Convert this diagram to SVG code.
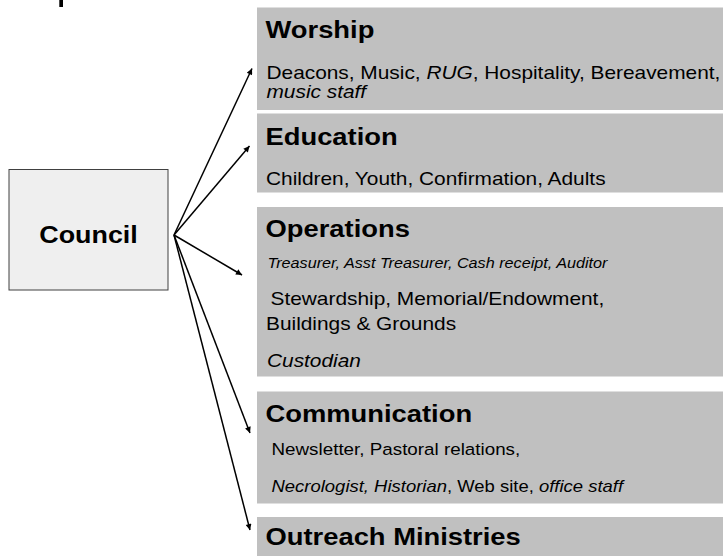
<svg xmlns="http://www.w3.org/2000/svg" width="723" height="556" viewBox="0 0 723 556">
<style>
  text { font-family: "Liberation Sans", Arial, Helvetica, sans-serif; fill: #000; }
  .h { font-size: 24px; font-weight: bold; }
  .b { font-size: 18.3px; }
  .s { font-size: 14.2px; font-style: italic; }
  .c { font-size: 16.5px; }
  .i { font-style: italic; }
  .box { fill: #c0c0c0; }
  .council { fill: #efefef; stroke: #404040; stroke-width: 1; }
  .conn line { stroke: #000; stroke-width: 1.5; marker-end: url(#ah); }
</style>
<defs>
  <marker id="ah" viewBox="0 0 10 10" refX="10" refY="5" markerWidth="8" markerHeight="6" markerUnits="userSpaceOnUse" orient="auto">
    <path d="M0,0 L10,5 L0,10 z" fill="#000"/>
  </marker>
</defs>
<rect width="723" height="556" fill="#ffffff"/>
<rect x="59.3" y="0" width="3.7" height="7" fill="#000"/>

<g id="council">
  <rect class="council" x="9" y="169.5" width="159" height="120.5"/>
  <text class="h" text-anchor="middle" transform="translate(88.5,242.5) scale(1.12,1)">Council</text>
</g>

<g id="worship">
  <rect class="box" x="257" y="7.5" width="466" height="102.5"/>
  <text class="h" transform="translate(265.5,37.5) scale(1.14,1)">Worship</text>
  <text class="b" transform="translate(266.5,79) scale(1.14,1)">Deacons, Music, <tspan class="i">RUG</tspan>, Hospitality, Bereavement,</text>
  <text class="b i" transform="translate(266.5,97.5) scale(1.14,1)">music staff</text>
</g>

<g id="education">
  <rect class="box" x="257" y="113.5" width="466" height="79"/>
  <text class="h" transform="translate(265.5,145) scale(1.14,1)">Education</text>
  <text class="b" transform="translate(266,185) scale(1.14,1)">Children, Youth, Confirmation, Adults</text>
</g>

<g id="operations">
  <rect class="box" x="257" y="207" width="466" height="169.5"/>
  <text class="h" transform="translate(265.5,237) scale(1.14,1)">Operations</text>
  <text class="s" transform="translate(267.5,268) scale(1.14,1)">Treasurer, Asst Treasurer, Cash receipt, Auditor</text>
  <text class="b" transform="translate(270.5,305) scale(1.14,1)">Stewardship, Memorial/Endowment,</text>
  <text class="b" transform="translate(266,330) scale(1.14,1)">Buildings &amp; Grounds</text>
  <text class="b i" transform="translate(267,367) scale(1.14,1)">Custodian</text>
</g>

<g id="communication">
  <rect class="box" x="257" y="391.5" width="466" height="112"/>
  <text class="h" transform="translate(265.5,422) scale(1.14,1)">Communication</text>
  <text class="c" transform="translate(271.5,455) scale(1.14,1)">Newsletter, Pastoral relations,</text>
  <text class="c" transform="translate(271.5,492) scale(1.12,1)"><tspan class="i">Necrologist, Historian</tspan>, Web site, <tspan class="i">office staff</tspan></text>
</g>

<g id="outreach">
  <rect class="box" x="257" y="517" width="466" height="39"/>
  <text class="h" transform="translate(265.5,545) scale(1.14,1)">Outreach Ministries</text>
</g>

<g id="connectors" class="conn">
  <line x1="174" y1="235" x2="252" y2="68.5"/>
  <line x1="174" y1="235" x2="249.5" y2="146"/>
  <line x1="174" y1="235" x2="242" y2="275"/>
  <line x1="174" y1="235" x2="250" y2="433"/>
  <line x1="174" y1="235" x2="250" y2="530"/>
</g>
</svg>
